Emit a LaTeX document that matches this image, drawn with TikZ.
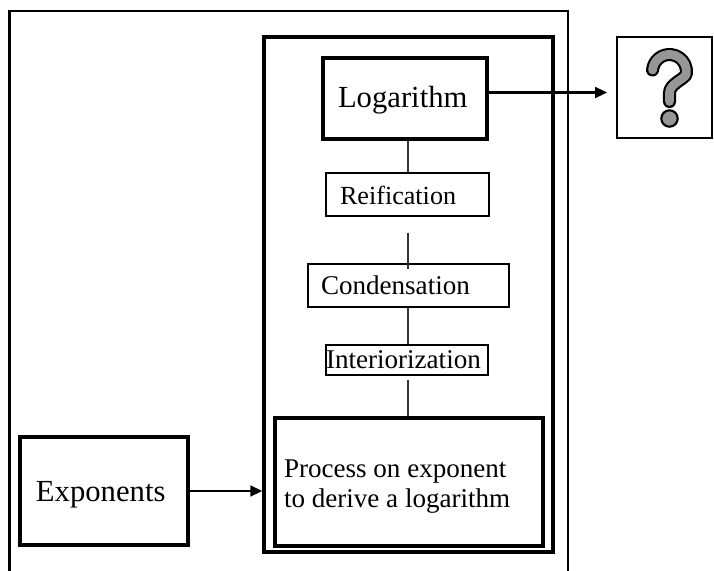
\documentclass[tikz,border=0pt]{standalone}
\usepackage{fontspec}
\setmainfont{Liberation Serif}
\usetikzlibrary{fit,arrows.meta}
\definecolor{qgray}{RGB}{150,150,150}
\tikzset{
  box/.style={draw, rectangle, inner sep=0pt},
  boldbox/.style={box, line width=2.6pt},
  midbox/.style={box, line width=1.7pt},
  thinbox/.style={box, line width=0.9pt},
  lbl/.style={anchor=base west, inner sep=0pt, outer sep=0pt},
  biglbl/.style={lbl, font=\fontsize{23}{27}\selectfont},
  smalllbl/.style={lbl, font=\fontsize{20.3}{24}\selectfont},
  link/.style={line width=0.8pt, black!80},
  arr/.style={line width=1.8pt, -{Triangle[length=9pt,width=8pt]}},
  qpath/.style={line cap=round, line join=round},
}
\begin{document}
\begin{tikzpicture}[x=0.75pt, y=-0.75pt]
\useasboundingbox (0,0) rectangle (714,571);

% outer frame, open at the bottom
\draw[line width=1.6pt] (9.5,571) -- (9.5,11) -- (568,11) -- (568,571);

% frames
\node[boldbox, line width=2.4pt, fit={(264,37) (553,552)}] (mid) {};
\node[boldbox, fit={(323,58) (487,139)}] (log) {};
\node[midbox, fit={(617,37) (712,138)}] (q) {};
\node[thinbox, fit={(326,173) (489,216)}] (reif) {};
\node[thinbox, fit={(308,264) (509,307)}] (cond) {};
\node[thinbox, fit={(326,345) (488,375)}] (inter) {};
\node[boldbox, line width=2.9pt, fit={(275,418) (543,546)}] (proc) {};
\node[boldbox, fit={(20,437) (188,545)}] (expo) {};

% texts
\node[biglbl] (logtxt) at (338,107.3) {Logarithm};
\node[smalllbl, font=\fontsize{19.6}{24}\selectfont] (reiftxt) at (340,204) {Reification};
\node[smalllbl] (condtxt) at (321,294.3) {Condensation};
\node[smalllbl] (intertxt) at (326,368.3) {Interiorization};
\node[biglbl] (expotxt) at (36,501.7) {Exponents};
\node[smalllbl] (proctxta) at (284,477) {Process on exponent};
\node[smalllbl] (proctxtb) at (284,507) {to derive a logarithm};

% vertical spine of connectors
\coordinate (spine) at (408,0);
\draw[link] (spine |- log.south) -- (spine |- reif.north);
\draw[link] ([yshift=-12pt]spine |- reif.south) -- ([yshift=-4.5pt]spine |- cond.north);
\draw[link] (spine |- cond.south) -- (spine |- inter.north);
\draw[link] ([yshift=-3pt]spine |- inter.south) -- (spine |- proc.north);

% arrows
\draw[arr, shorten >=6.5pt] ([yshift=4.5pt]log.east) -- ([yshift=4.5pt]log.east -| q.west);
\draw[arr] (expo.east) -- (expo.east -| mid.west);

% question mark glyph: black outline with grey core
\def\qhook{(669.5,71.5) ++(185:17) arc[start angle=185, end angle=370, radius=17]
  .. controls (683,80) and (669.5,84) .. (669.5,93) -- (669.5,101.5)}
\path[qpath, draw=black, line width=9.8pt] \qhook;
\path[qpath, draw=qgray, line width=6.6pt] \qhook;
\draw[fill=qgray, line width=1.6pt] (669.5,118.5) circle[radius=8.2];
\end{tikzpicture}
\end{document}
